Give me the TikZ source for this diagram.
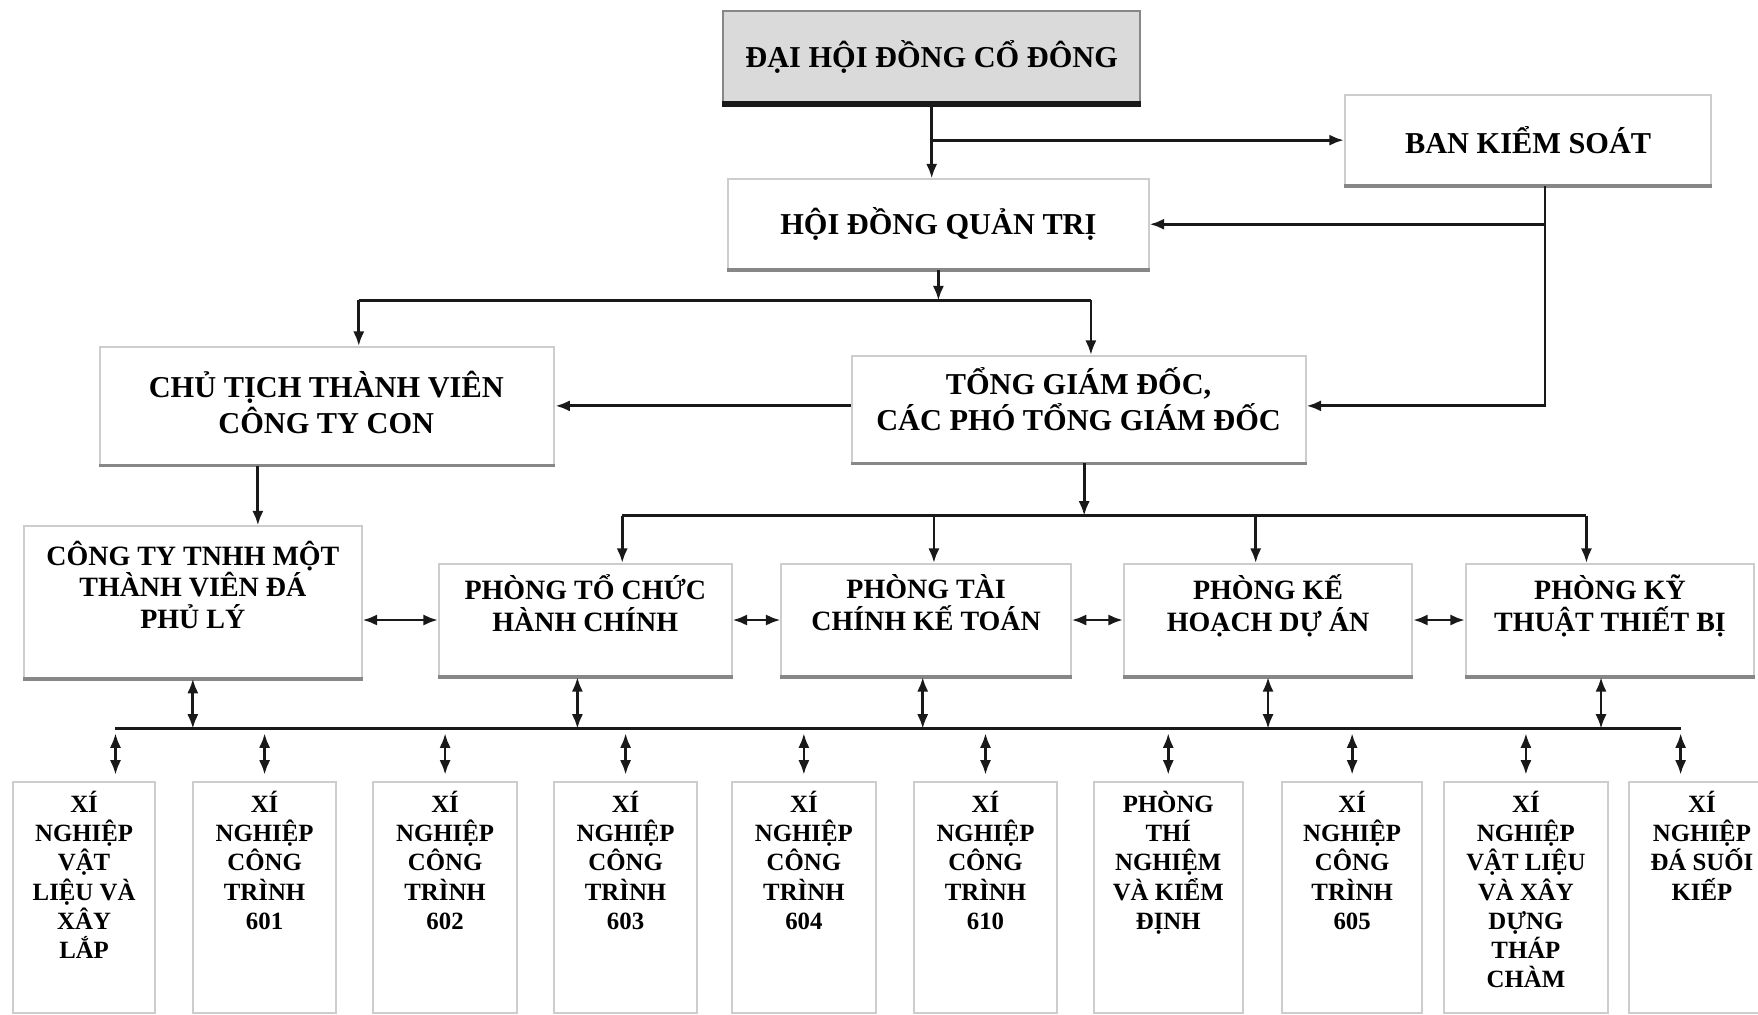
\documentclass[tikz,border=0pt]{standalone}
\usepackage{fontspec}
\setmainfont{Liberation Serif}
\usepackage{tikz}
\usetikzlibrary{arrows.meta, positioning, calc}
\definecolor{mydark}{RGB}{25,25,25}
\definecolor{myframe}{RGB}{205,205,205}
\definecolor{myedge}{RGB}{135,135,135}
\definecolor{hdrgray}{RGB}{218,218,218}
\tikzset{
  topbox/.style={rectangle, draw=myframe, fill=white, align=center,
    inner sep=2pt, line width=0.5pt,
    font=\bfseries\fontsize{7.7}{9.2}\selectfont},
  headbox/.style={topbox, fill=hdrgray, draw=myedge},
  toptext/.style={align=center, inner sep=0pt,
    font=\bfseries\fontsize{7.7}{9.2}\selectfont},
  deptbox/.style={rectangle, draw=myframe, minimum height=10mm,
    line width=0.5pt},
  depttext/.style={align=center, inner sep=0pt,
    font=\bfseries\fontsize{7.1}{8.1}\selectfont},
  unitbox/.style={rectangle, draw=myframe, minimum height=20.6mm,
    line width=0.5pt, anchor=north},
  unittext/.style={align=center, inner sep=0pt,
    font=\bfseries\fontsize{6.3}{7.4}\selectfont},
  arrow/.style={-{Latex[length=1.3mm,width=1mm]}, line width=0.7pt, color=mydark},
  dblarrow/.style={{Latex[length=1.3mm,width=1mm]}-{Latex[length=1.3mm,width=1mm]},
    line width=0.7pt, color=mydark},
  unitarrow/.style={dblarrow, shorten <=0.4mm, shorten >=0.6mm},
  line/.style={line width=0.7pt, color=mydark},
  boxedge/.style={line width=0.9pt, color=myedge},
  headedge/.style={line width=1.6pt, color=mydark}
}

\begin{document}
\begin{tikzpicture}[x=0.1mm, y=-0.1mm]
  \useasboundingbox (0,0) rectangle (1568,905);

  % Upper levels
  \node[headbox, minimum width=37.2mm, minimum height=8.2mm] (dhd) at (831,51) {ĐẠI HỘI ĐỒNG CỔ ĐÔNG};
  \node[topbox, minimum width=32.7mm, minimum height=8mm] (bks) at (1363,125) {BAN KIỂM SOÁT};
  \node[topbox, minimum width=37.5mm, minimum height=8mm] (hdqt) at (837,200) {HỘI ĐỒNG QUẢN TRỊ};
  \node[topbox, minimum width=40.5mm, minimum height=10.5mm] (ctcon) at (292,362) {};
  \node[toptext] (ctcont) at (291,359) {CHỦ TỊCH THÀNH VIÊN\\CÔNG TY CON};
  \node[topbox, minimum width=40.5mm, minimum height=9.5mm] (tgd) at (962,365) {};
  \node[toptext] (tgdt) at (962,356) {TỔNG GIÁM ĐỐC,\\CÁC PHÓ TỔNG GIÁM ĐỐC};

  % Departments
  \node[deptbox, minimum width=30.1mm, minimum height=13.5mm] (dpl) at (172,537) {};
  \node[depttext, below=1.3mm of dpl.north] (dplt) {CÔNG TY TNHH MỘT\\THÀNH VIÊN ĐÁ\\PHỦ LÝ};
  \node[deptbox, minimum width=26.1mm] (ptc) at (522,553) {};
  \node[depttext, below=1.0mm of ptc.north] (ptct) {PHÒNG TỔ CHỨC\\HÀNH CHÍNH};
  \node[deptbox, minimum width=25.8mm] (ptk) at (826,553) {};
  \node[depttext, below=1.0mm of ptk.north] (ptkt) {PHÒNG TÀI\\CHÍNH KẾ TOÁN};
  \node[deptbox, minimum width=25.7mm] (pkh) at (1131,553) {};
  \node[depttext, below=1.0mm of pkh.north] (pkht) {PHÒNG KẾ\\HOẠCH DỰ ÁN};
  \node[deptbox, minimum width=25.7mm] (pkt) at (1436,553) {};
  \node[depttext, below=1.0mm of pkt.north] (pktt) {PHÒNG KỸ\\THUẬT THIẾT BỊ};

  % Units
  \node[unitbox, minimum width=12.6mm] (xnvl) at (75,697) {};
  \node[unittext, below=0.8mm of xnvl.north] (xnvlt) {XÍ\\NGHIỆP\\VẬT\\LIỆU VÀ\\XÂY\\LẮP};
  \node[unitbox, minimum width=12.8mm] (xn601) at (236,697) {};
  \node[unittext, below=0.8mm of xn601.north] (xn601t) {XÍ\\NGHIỆP\\CÔNG\\TRÌNH\\601};
  \node[unitbox, minimum width=12.9mm] (xn602) at (397,697) {};
  \node[unittext, below=0.8mm of xn602.north] (xn602t) {XÍ\\NGHIỆP\\CÔNG\\TRÌNH\\602};
  \node[unitbox, minimum width=12.7mm] (xn603) at (558,697) {};
  \node[unittext, below=0.8mm of xn603.north] (xn603t) {XÍ\\NGHIỆP\\CÔNG\\TRÌNH\\603};
  \node[unitbox, minimum width=12.9mm] (xn604) at (717,697) {};
  \node[unittext, below=0.8mm of xn604.north] (xn604t) {XÍ\\NGHIỆP\\CÔNG\\TRÌNH\\604};
  \node[unitbox, minimum width=12.8mm] (xn610) at (879,697) {};
  \node[unittext, below=0.8mm of xn610.north] (xn610t) {XÍ\\NGHIỆP\\CÔNG\\TRÌNH\\610};
  \node[unitbox, minimum width=13.3mm] (ptn) at (1042,697) {};
  \node[unittext, below=0.8mm of ptn.north] (ptnt) {PHÒNG\\THÍ\\NGHIỆM\\VÀ KIỂM\\ĐỊNH};
  \node[unitbox, minimum width=12.5mm] (xn605) at (1206,697) {};
  \node[unittext, below=0.8mm of xn605.north] (xn605t) {XÍ\\NGHIỆP\\CÔNG\\TRÌNH\\605};
  \node[unitbox, minimum width=14.7mm] (xntc) at (1361,697) {};
  \node[unittext, below=0.8mm of xntc.north] (xntct) {XÍ\\NGHIỆP\\VẬT LIỆU\\VÀ XÂY\\DỰNG\\THÁP\\CHÀM};
  \node[unitbox, minimum width=13mm] (xndsk) at (1518,697) {};
  \node[unittext, below=0.8mm of xndsk.north] (xndskt) {XÍ\\NGHIỆP\\ĐÁ SUỐI\\KIẾP};

  % Darker bottom edges of the boxes
  \draw[headedge] (dhd.south west) -- (dhd.south east);
  \draw[boxedge] (bks.south west) -- (bks.south east);
  \draw[boxedge] (hdqt.south west) -- (hdqt.south east);
  \draw[boxedge] (ctcon.south west) -- (ctcon.south east);
  \draw[boxedge] (tgd.south west) -- (tgd.south east);
  \draw[boxedge] (dpl.south west) -- (dpl.south east);
  \draw[boxedge] (ptc.south west) -- (ptc.south east);
  \draw[boxedge] (ptk.south west) -- (ptk.south east);
  \draw[boxedge] (pkh.south west) -- (pkh.south east);
  \draw[boxedge] (pkt.south west) -- (pkt.south east);

  % General meeting -> board, supervisory board
  \draw[arrow] (dhd.south) -- (dhd.south |- hdqt.north);
  \draw[arrow] (dhd.south |- bks.west) -- (bks.west);
  \coordinate (bktap) at ([xshift=1.5mm]bks.south);
  \draw[arrow] (bktap) |- ([yshift=0.3mm]tgd.east);
  \draw[arrow] (bktap |- hdqt.east) -- (hdqt.east);

  % Board -> chairman, general director
  \coordinate (qtl) at (320,268);
  \coordinate (qtr) at (973,268);
  \draw[arrow] (hdqt.south) -- (hdqt.south |- qtl);
  \draw[line] (qtl) -- (qtr);
  \draw[arrow] (qtl) -- (qtl |- ctcon.north);
  \draw[arrow] (qtr) -- (qtr |- tgd.north);
  \draw[arrow] (tgd.west |- ctcon.east) -- (ctcon.east);
  \coordinate (cttap) at ([xshift=-6.2mm]ctcon.south);
  \draw[arrow] (cttap) -- (cttap |- dpl.north);

  % General director -> departments
  \coordinate (gd1) at (555,460);
  \coordinate (gd2) at (833,460);
  \coordinate (gd3) at (1120,460);
  \coordinate (gd4) at (1415,460);
  \draw[arrow] ([xshift=0.5mm]tgd.south) -- ([xshift=0.5mm]tgd.south |- gd1);
  \draw[line] (gd1) -- (gd4);
  \draw[arrow] (gd1) -- (gd1 |- ptc.north);
  \draw[arrow] (gd2) -- (gd2 |- ptk.north);
  \draw[arrow] (gd3) -- (gd3 |- pkh.north);
  \draw[arrow] (gd4) -- (gd4 |- pkt.north);

  % Links between departments
  \draw[dblarrow] (dpl.east |- ptc.west) -- (ptc.west);
  \draw[dblarrow] (ptc.east) -- (ptk.west);
  \draw[dblarrow] (ptk.east) -- (pkh.west);
  \draw[dblarrow] (pkh.east) -- (pkt.west);

  % Departments <-> units
  \coordinate (busl) at ([xshift=2.8mm]xnvl.north |- 0,650);
  \coordinate (busr) at ([xshift=-1.9mm]xndsk.north |- 0,650);
  \draw[line] (busl) -- (busr);
  \draw[dblarrow] (dpl.south) -- (dpl.south |- busl);
  \draw[dblarrow] ([xshift=-0.7mm]ptc.south) -- ([xshift=-0.7mm]ptc.south |- busl);
  \draw[dblarrow] ([xshift=-0.3mm]ptk.south) -- ([xshift=-0.3mm]ptk.south |- busl);
  \draw[dblarrow] (pkh.south) -- (pkh.south |- busl);
  \draw[dblarrow] ([xshift=-0.8mm]pkt.south) -- ([xshift=-0.8mm]pkt.south |- busl);
  \draw[unitarrow] (busl) -- (busl |- xnvl.north);
  \draw[unitarrow] (xn601.north |- busl) -- (xn601.north);
  \draw[unitarrow] (xn602.north |- busl) -- (xn602.north);
  \draw[unitarrow] (xn603.north |- busl) -- (xn603.north);
  \draw[unitarrow] (xn604.north |- busl) -- (xn604.north);
  \draw[unitarrow] (xn610.north |- busl) -- (xn610.north);
  \draw[unitarrow] (ptn.north |- busl) -- (ptn.north);
  \draw[unitarrow] (xn605.north |- busl) -- (xn605.north);
  \draw[unitarrow] (xntc.north |- busl) -- (xntc.north);
  \draw[unitarrow] (busr) -- (busr |- xndsk.north);
\end{tikzpicture}
\end{document}
